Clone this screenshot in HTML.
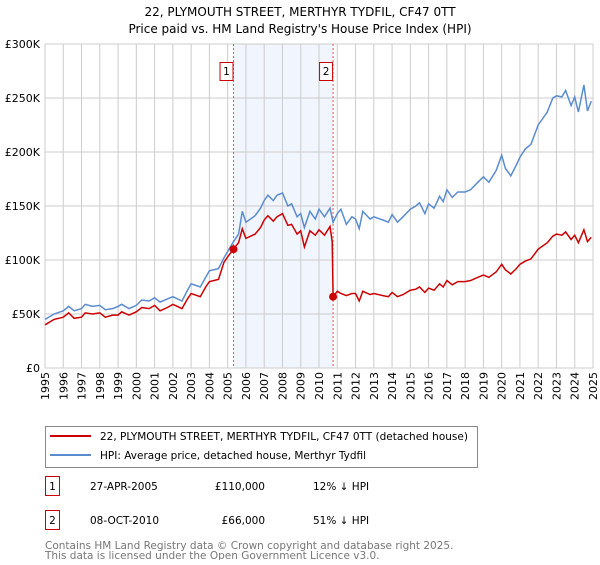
<!DOCTYPE html>
<html><head><meta charset="utf-8"><style>
body{margin:0;background:#fff;font-family:"Liberation Sans","DejaVu Sans",sans-serif;}
svg text{font-family:"DejaVu Sans","Liberation Sans",sans-serif;}
</style></head><body>
<svg width="600" height="560" viewBox="0 0 600 560" xmlns="http://www.w3.org/2000/svg">
<text x="300" y="16" text-anchor="middle" font-size="12">22, PLYMOUTH STREET, MERTHYR TYDFIL, CF47 0TT</text>
<text x="300" y="33" text-anchor="middle" font-size="12">Price paid vs. HM Land Registry's House Price Index (HPI)</text>
<g id="plot"></g>
<g>
<rect x="45.5" y="426.5" width="432" height="41" fill="#fff" stroke="#888"/>
<line x1="50" y1="436" x2="91" y2="436" stroke="#cc0000" stroke-width="2"/>
<text x="100" y="440" font-size="10.5">22, PLYMOUTH STREET, MERTHYR TYDFIL, CF47 0TT (detached house)</text>
<line x1="50" y1="455" x2="91" y2="455" stroke="#5b8ccf" stroke-width="2"/>
<text x="100" y="459" font-size="10.5">HPI: Average price, detached house, Merthyr Tydfil</text>
</g>
<g font-size="10.5">
<rect x="45.5" y="476.5" width="14" height="19" fill="#fff" stroke="#cc0000"/>
<text x="52.5" y="490" text-anchor="middle">1</text>
<text x="90" y="490">27-APR-2005</text>
<text x="265" y="490" text-anchor="end">£110,000</text>
<text x="313" y="490">12% ↓ HPI</text>
<rect x="45.5" y="510.5" width="14" height="19" fill="#fff" stroke="#cc0000"/>
<text x="52.5" y="524" text-anchor="middle">2</text>
<text x="90" y="524">08-OCT-2010</text>
<text x="265" y="524" text-anchor="end">£66,000</text>
<text x="313" y="524">51% ↓ HPI</text>
</g>
<text x="45" y="549" font-size="10.5" fill="#777">Contains HM Land Registry data © Crown copyright and database right 2025.</text>
<text x="45" y="559" font-size="10.5" fill="#777">This data is licensed under the Open Government Licence v3.0.</text>
</svg>
<script>
const years=[1995,1996,1997,1998,1999,2000,2001,2002,2003,2004,2005,2006,2007,2008,2009,2010,2011,2012,2013,2014,2015,2016,2017,2018,2019,2020,2021,2022,2023,2024,2025];
const yTicks=[0,50,100,150,200,250,300];
const yTickLabels=["£0","£50K","£100K","£150K","£200K","£250K","£300K"];
const hpiT=[1995,1995.5,1996,1996.3,1996.6,1997,1997.2,1997.6,1998,1998.3,1998.7,1999,1999.2,1999.6,2000,2000.3,2000.7,2001,2001.3,2001.7,2002,2002.5,2002.8,2003,2003.5,2003.8,2004,2004.5,2004.8,2005,2005.32,2005.6,2005.8,2006,2006.5,2006.8,2007,2007.2,2007.5,2007.7,2008,2008.3,2008.5,2008.8,2009,2009.2,2009.5,2009.8,2010,2010.3,2010.6,2010.77,2011,2011.2,2011.5,2011.8,2012,2012.2,2012.4,2012.8,2013,2013.5,2013.8,2014,2014.3,2014.6,2015,2015.3,2015.5,2015.8,2016,2016.3,2016.6,2016.8,2017,2017.3,2017.6,2018,2018.3,2018.7,2019,2019.3,2019.7,2020,2020.2,2020.5,2020.8,2021,2021.3,2021.6,2022,2022.5,2022.8,2023,2023.3,2023.5,2023.8,2024,2024.2,2024.5,2024.7,2024.9];
const hpiV=[45,50,53,57,53,55,59,57,58,54,55,57,59,55,58,63,62,65,61,64,66,62,72,78,75,84,90,92,102,108,117,124,145,135,141,148,155,160,155,160,162,150,152,140,143,130,145,138,147,140,148,135,143,147,133,140,138,129,145,138,140,137,135,142,135,140,147,150,153,143,152,148,159,154,165,158,163,163,165,172,177,172,183,197,185,178,188,195,203,207,225,237,250,252,251,257,243,251,237,262,238,247];
const priceT=[1995,1995.5,1996,1996.3,1996.6,1997,1997.2,1997.6,1998,1998.3,1998.7,1999,1999.2,1999.6,2000,2000.3,2000.7,2001,2001.3,2001.7,2002,2002.5,2002.8,2003,2003.5,2003.8,2004,2004.5,2004.8,2005,2005.32,2005.6,2005.8,2006,2006.5,2006.8,2007,2007.2,2007.5,2007.7,2008,2008.3,2008.5,2008.8,2009,2009.2,2009.5,2009.8,2010,2010.3,2010.6,2010.72,2010.77,2011,2011.2,2011.5,2011.8,2012,2012.2,2012.4,2012.8,2013,2013.5,2013.8,2014,2014.3,2014.6,2015,2015.3,2015.5,2015.8,2016,2016.3,2016.6,2016.8,2017,2017.3,2017.6,2018,2018.3,2018.7,2019,2019.3,2019.7,2020,2020.2,2020.5,2020.8,2021,2021.3,2021.6,2022,2022.5,2022.8,2023,2023.3,2023.5,2023.8,2024,2024.2,2024.5,2024.7,2024.9];
const priceV=[40,45,47,51,46,47,51,50,51,47,49,49,52,49,52,56,55,58,53,56,59,55,64,69,66,75,80,82,98,103,110,116,129,120,124,130,137,141,136,140,143,132,133,124,127,112,127,123,128,123,131,117,66,71,69,67,69,69,62,71,68,69,67,66,70,66,68,72,73,75,70,74,72,78,75,81,77,80,80,81,84,86,84,89,96,91,87,92,96,99,101,110,116,122,124,123,126,119,123,116,128,117,121];
const saleT=[2005.32,2010.77];
const saleV=[110,66];
const saleLabels=["1","2"];
const NS="http://www.w3.org/2000/svg";
const X0=45,X1=593,Y0=368,Y1=44;
const xs=t=>X0+(t-1995)/30*(X1-X0);
const ys=v=>Y0-v/300*(Y0-Y1);
const g=document.getElementById('plot');
function mk(tag,attrs,parent){const e=document.createElementNS(NS,tag);for(const k in attrs)e.setAttribute(k,attrs[k]);(parent||g).appendChild(e);return e;}
const shade=mk('rect',{x:xs(saleT[0]),y:Y1,width:xs(saleT[1])-xs(saleT[0]),height:Y0-Y1,fill:'#eef3fd',opacity:0.8});


years.forEach((yr,i)=>{
 const l=mk('line',{x1:xs(yr),x2:xs(yr),y1:Y1,y2:Y0,stroke:'#ccc','stroke-width':1});
 
 
 const t=mk('text',{x:0,y:0,'font-size':11,'text-anchor':'end',transform:`translate(${xs(yr)+4},${Y0+4}) rotate(-90)`});
 t.textContent=yr;
 
 
});
yTicks.forEach((v,i)=>{
 const l=mk('line',{x1:X0,x2:X1,y1:ys(v),y2:ys(v),stroke:'#ccc','stroke-width':1});
 
 
 const t=mk('text',{x:X0-5,y:ys(v)+4,'font-size':11,'text-anchor':'end'});
 t.textContent=yTickLabels[i];
 
 
});
saleT.forEach((t,i)=>{
 const l=mk('line',{x1:xs(t),x2:xs(t),y1:Y1,y2:Y0,stroke:'#e05555','stroke-width':1,'stroke-dasharray':'2,2'});
 
 
 const r=mk('rect',{x:xs(t)-13.5,y:62.5,width:13,height:18,fill:'#fff',stroke:'#cc0000'});
 
 
 const tx=mk('text',{x:xs(t)-7,y:75,'font-size':10.5,'text-anchor':'middle'});
 tx.textContent=saleLabels[i];
 
 
});
const hp=mk('path',{d:hpiT.map((t,i)=>(i?'L':'M')+xs(t).toFixed(1)+','+ys(hpiV[i]).toFixed(1)).join(''),fill:'none',stroke:'#5b8ccf','stroke-width':1.5});


const pp=mk('path',{d:priceT.map((t,i)=>(i?'L':'M')+xs(t).toFixed(1)+','+ys(priceV[i]).toFixed(1)).join(''),fill:'none',stroke:'#cc0000','stroke-width':1.5});


saleT.forEach((t,i)=>{
 const c=mk('circle',{cx:xs(t),cy:ys(saleV[i]),r:4,fill:'#cc0000'});
 
 
});
</script>
</body></html>
